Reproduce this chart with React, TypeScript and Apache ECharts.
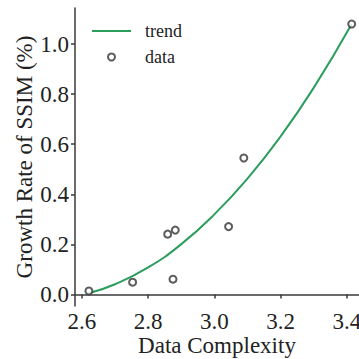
import React, { useEffect, useRef } from "react";
import * as echarts from "echarts";

const dataX = [2.621, 2.753, 2.859, 2.875, 2.882, 3.043, 3.089, 3.415];
const dataY = [0.014, 0.049, 0.241, 0.061, 0.257, 0.271, 0.545, 1.08];

const trendX = [2.62, 2.7, 2.8, 2.9, 3.0, 3.1, 3.2, 3.3, 3.415];
const trendY = [0.005, 0.041, 0.108, 0.201, 0.32, 0.463, 0.631, 0.825, 1.08];

const xTicks = [2.6, 2.8, 3.0, 3.2, 3.4];
const yTicks = [0.0, 0.2, 0.4, 0.6, 0.8, 1.0];

const FONT = "'Liberation Serif', 'Times New Roman', serif";
const AXIS = "#3a3a3a";
const GREEN = "#2b9d5c";

export default function App() {
  const ref = useRef<HTMLDivElement>(null);
  useEffect(() => {
    document.body.style.margin = "0";
    if (!ref.current) return;
    const chart = echarts.init(ref.current, null, { renderer: "svg" });
    const axisCommon = {
      axisLine: { show: true, lineStyle: { color: AXIS, width: 1.5 } },
      axisTick: { show: true, length: 4, lineStyle: { color: AXIS, width: 1.5 } },
      splitLine: { show: false },
      nameLocation: "middle" as const,
      nameMoveOverlap: false,
      nameTextStyle: { fontFamily: FONT, fontSize: 23, color: "#222" },
    };
    chart.setOption({
      animation: false,
      grid: {
        left: 75,
        right: 0,
        top: 8,
        bottom: 53,
        containLabel: false,
        outerBoundsMode: "none",
      },
      legend: [
        {
          data: [{ name: "trend", icon: "rect" }],
          left: 92,
          top: 22,
          padding: 0,
          itemWidth: 39,
          itemHeight: 2,
          textStyle: { fontFamily: FONT, fontSize: 18, color: "#222", padding: [0, 0, 0, 9] },
        },
        {
          data: ["data"],
          left: 107,
          top: 48,
          padding: 0,
          itemWidth: 39,
          itemHeight: 7,
          textStyle: { fontFamily: FONT, fontSize: 18, color: "#222", padding: [0, 0, 0, 9] },
        },
      ],
      xAxis: {
        type: "value",
        min: 2.579,
        max: 3.437,
        name: "Data Complexity",
        nameGap: 28,
        ...axisCommon,
        axisTick: { ...axisCommon.axisTick, customValues: xTicks },
        axisLabel: {
          customValues: xTicks,
          fontFamily: FONT,
          fontSize: 23,
          color: "#222",
          margin: 4,
          formatter: (v: number) => v.toFixed(1),
        },
      },
      yAxis: {
        type: "value",
        min: -0.046,
        max: 1.144,
        name: "Growth Rate of SSIM (%)",
        nameGap: 39,
        ...axisCommon,
        axisTick: { ...axisCommon.axisTick, customValues: yTicks },
        axisLabel: {
          customValues: yTicks,
          fontFamily: FONT,
          fontSize: 23,
          color: "#222",
          margin: 6,
          formatter: (v: number) => v.toFixed(1),
        },
      },
      series: [
        {
          name: "trend",
          type: "line",
          data: trendX.map((x, i) => [x, trendY[i]]),
          smooth: true,
          symbol: "none",
          lineStyle: { color: GREEN, width: 2 },
          itemStyle: { color: GREEN },
          z: 2,
        },
        {
          name: "data",
          type: "scatter",
          data: dataX.map((x, i) => [x, dataY[i]]),
          symbol: "emptyCircle",
          symbolSize: 7,
          itemStyle: { color: "#333", borderColor: "#333", borderWidth: 1.3 },
          z: 3,
        },
      ],
    });
    return () => chart.dispose();
  }, []);
  return <div ref={ref} style={{ width: 359, height: 359 }} />;
}
